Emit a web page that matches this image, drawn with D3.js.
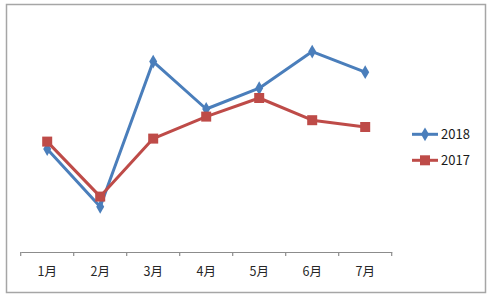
<!DOCTYPE html>
<html>
<head>
<meta charset="utf-8">
<script src="https://cdn.jsdelivr.net/npm/d3@7"></script>
<style>
  body { margin: 0; background: #fff; }
  text { font-family: "Noto Sans CJK SC", "Noto Sans", sans-serif; }
</style>
</head>
<body>
<div id="chart"></div>
<script>
// data (no y axis shown, values are relative)
var months = ["1月", "2月", "3月", "4月", "5月", "6月", "7月"];
var values2018 = [51.5, 22.6, 95.2, 71.5, 81.9, 100.2, 89.9];
var values2017 = [55.2, 27.7, 56.7, 67.7, 77.0, 65.9, 62.5];
var seriesNames = ["2018", "2017"];
var seriesColors = ["#4A7EBB", "#BE4B48"];

var width = 491, height = 296;

var svg = d3.select("#chart").append("svg")
    .attr("width", width)
    .attr("height", height);

// chart border
svg.append("rect")
    .attr("x", 6.5).attr("y", 4.5)
    .attr("width", 479).attr("height", 288)
    .attr("fill", "#fff")
    .attr("stroke", "#a6a6a6")
    .attr("stroke-width", 1.5);

var x = d3.scaleBand().domain(months).range([20.7, 391.7]);
var y = d3.scaleLinear().domain([0, 120]).range([252, 12]);

// x axis
var xAxis = svg.append("g")
    .attr("transform", "translate(0,252)")
    .call(d3.axisBottom(x).tickSize(0).tickPadding(15));
xAxis.select(".domain").attr("stroke", "#8c8c8c").attr("stroke-width", 1.2);
xAxis.selectAll("text")
    .attr("fill", "#262626")
    .style("font-size", "12.5px");

// tick marks between categories
var bounds = months.map(function(m) { return x(m); }).concat([x.range()[1]]);
xAxis.selectAll(".sep")
    .data(bounds)
    .enter().append("line")
    .attr("class", "sep")
    .attr("x1", function(d) { return d; })
    .attr("x2", function(d) { return d; })
    .attr("y1", 0).attr("y2", 4)
    .attr("stroke", "#8c8c8c")
    .attr("stroke-width", 1.2);

var cx = function(i) { return x(months[i]) + x.bandwidth() / 2; };

var line = d3.line()
    .x(function(d, i) { return cx(i); })
    .y(function(d) { return y(d); });

var allSeries = [values2018, values2017];

[0, 1].forEach(function(s) {
  svg.append("path")
      .datum(allSeries[s])
      .attr("fill", "none")
      .attr("stroke", seriesColors[s])
      .attr("stroke-width", 3)
      .attr("stroke-linejoin", "round")
      .attr("d", line);
});

// markers
var diamond = d3.symbol().type(d3.symbolDiamond).size(55);
svg.append("g").selectAll("path")
    .data(values2018)
    .enter().append("path")
    .attr("transform", function(d, i) { return "translate(" + cx(i) + "," + y(d) + ")"; })
    .attr("d", diamond)
    .attr("fill", seriesColors[0]);

svg.append("g").selectAll("rect")
    .data(values2017)
    .enter().append("rect")
    .attr("x", function(d, i) { return cx(i) - 5; })
    .attr("y", function(d) { return y(d) - 5; })
    .attr("width", 10).attr("height", 10)
    .attr("fill", seriesColors[1]);

// legend
var legend = svg.append("g").selectAll("g")
    .data(seriesNames)
    .enter().append("g")
    .attr("transform", function(d, i) { return "translate(412," + (134.3 + i * 26) + ")"; });

legend.append("line")
    .attr("x1", 0).attr("x2", 26)
    .attr("stroke", function(d, i) { return seriesColors[i]; })
    .attr("stroke-width", 3);

legend.filter(function(d, i) { return i == 0; })
    .append("path")
    .attr("transform", "translate(13,0)")
    .attr("d", diamond)
    .attr("fill", seriesColors[0]);

legend.filter(function(d, i) { return i == 1; })
    .append("rect")
    .attr("x", 8).attr("y", -5)
    .attr("width", 10).attr("height", 10)
    .attr("fill", seriesColors[1]);

legend.append("text")
    .attr("x", 29)
    .attr("dy", "0.36em")
    .attr("fill", "#1a1a1a")
    .style("font-size", "13px")
    .text(function(d) { return d; });
</script>
</body>
</html>
